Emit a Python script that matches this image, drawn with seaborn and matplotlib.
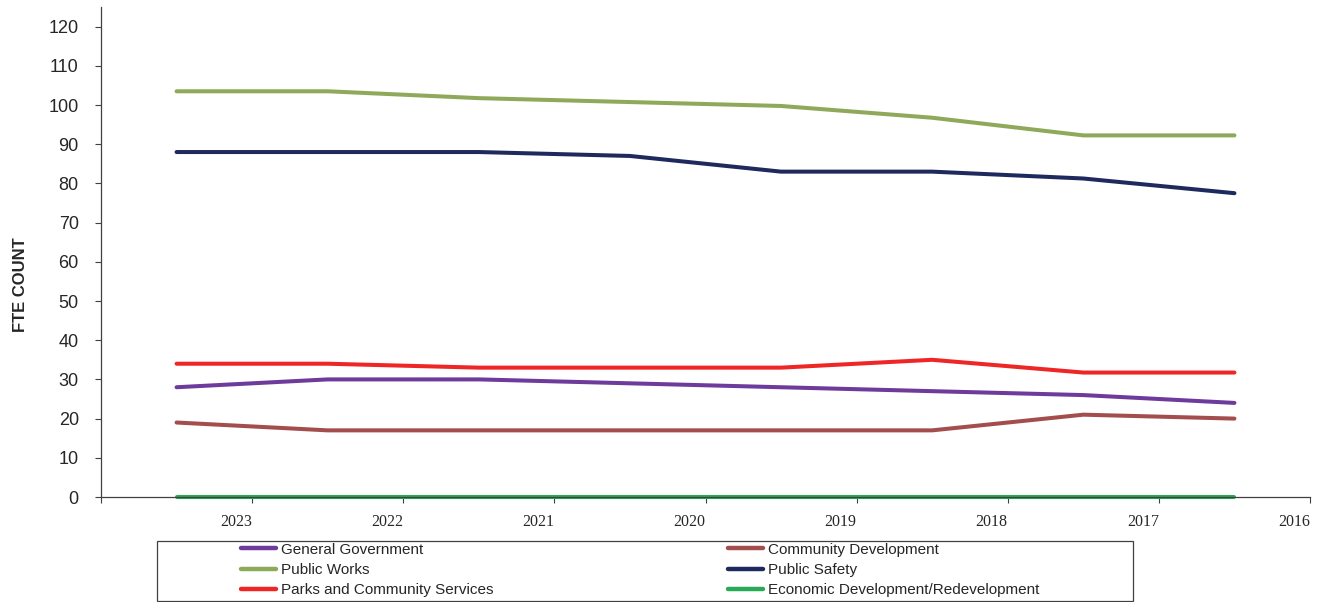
import numpy as np
import pandas as pd
import seaborn as sns
import matplotlib.pyplot as plt
from matplotlib.lines import Line2D
from matplotlib.patches import Rectangle

# Năm và số FTE theo từng bộ phận
years = ["2023", "2022", "2021", "2020", "2019", "2018", "2017", "2016"]
general_government = [28, 30, 30, 29, 28, 27, 26, 24]
community_development = [19, 17, 17, 17, 17, 17, 21, 20]
public_works = [103.5, 103.5, 101.75, 100.75, 99.75, 96.75, 92.25, 92.25]
public_safety = [88, 88, 88, 87, 83, 83, 81.25, 77.5]
parks_community = [34, 34, 33, 33, 33, 35, 31.75, 31.75]
economic_dev = [0, 0, 0, 0, 0, 0, 0, 0]

series = {
    "General Government": general_government,
    "Community Development": community_development,
    "Public Works": public_works,
    "Public Safety": public_safety,
    "Parks and Community Services": parks_community,
    "Economic Development/Redevelopment": economic_dev,
}
colors = {
    "General Government": "#6E3A9C",
    "Community Development": "#A34D4D",
    "Public Works": "#8FA95A",
    "Public Safety": "#1E2A5E",
    "Parks and Community Services": "#EE2626",
    "Economic Development/Redevelopment": "#27AA55",
}

rows = []
for name, vals in series.items():
    for i, v in enumerate(vals):
        rows.append({"pos": i, "fte": v, "dept": name})
df = pd.DataFrame(rows)

sns.set_style("white")
plt.rcParams["font.family"] = ["Liberation Sans", "DejaVu Sans"]

fig = plt.figure(figsize=(13.21, 6.02), dpi=100)
ax = fig.add_axes([101 / 1321, 1 - 497 / 602, 1209 / 1321, 490 / 602])

sns.lineplot(data=df, x="pos", y="fte", hue="dept", palette=colors,
             linewidth=2.9, ax=ax, legend=False, solid_capstyle="round",
             sort=False)
for line in ax.lines:
    line.set_clip_on(False)

ax.set_xlim(-0.5, len(years) - 0.5)
ax.set_ylim(0, 125)
ax.set_yticks(np.arange(0, 121, 10))
ax.set_xticks(np.arange(len(years) + 1) - 0.5)
ax.set_xticklabels([""] + years, family="Liberation Serif", fontsize=11.5,
                   ha="right")
for lab in ax.get_yticklabels():
    lab.set_fontsize(13)

ax.tick_params(axis="y", direction="out", length=4, width=0.8, pad=12,
               color="#404040", left=True)
ax.tick_params(axis="x", direction="out", length=4, width=0.8, pad=8,
               color="#404040", bottom=True)
for side in ["top", "right"]:
    ax.spines[side].set_visible(False)
for side in ["left", "bottom"]:
    ax.spines[side].set_color("#404040")
    ax.spines[side].set_linewidth(0.9)

ax.set_xlabel("")
ax.set_ylabel("FTE COUNT", fontsize=12, fontweight="bold")
ax.yaxis.set_label_coords(-0.0600, 0.433)

# Chú thích: hai cột, khung riêng
fig.patches.append(Rectangle((157 / 1321, 1 / 602), 976 / 1321, 60 / 602,
                             transform=fig.transFigure, fill=False,
                             edgecolor="#404040", linewidth=0.9))
col1 = ["General Government", "Public Works", "Parks and Community Services"]
col2 = ["Community Development", "Public Safety",
        "Economic Development/Redevelopment"]
for names, x0 in [(col1, 241), (col2, 728)]:
    handles = [Line2D([], [], color=colors[n], linewidth=3.2,
                      solid_capstyle="round") for n in names]
    fig.legend(handles, names, loc="center left",
               bbox_to_anchor=(x0 / 1321, 1 - 570 / 602), frameon=False,
               fontsize=11, handlelength=2.3, handletextpad=0.3,
               labelspacing=0.42, borderpad=0, borderaxespad=0)

fig.savefig("out.png", dpi=100)
